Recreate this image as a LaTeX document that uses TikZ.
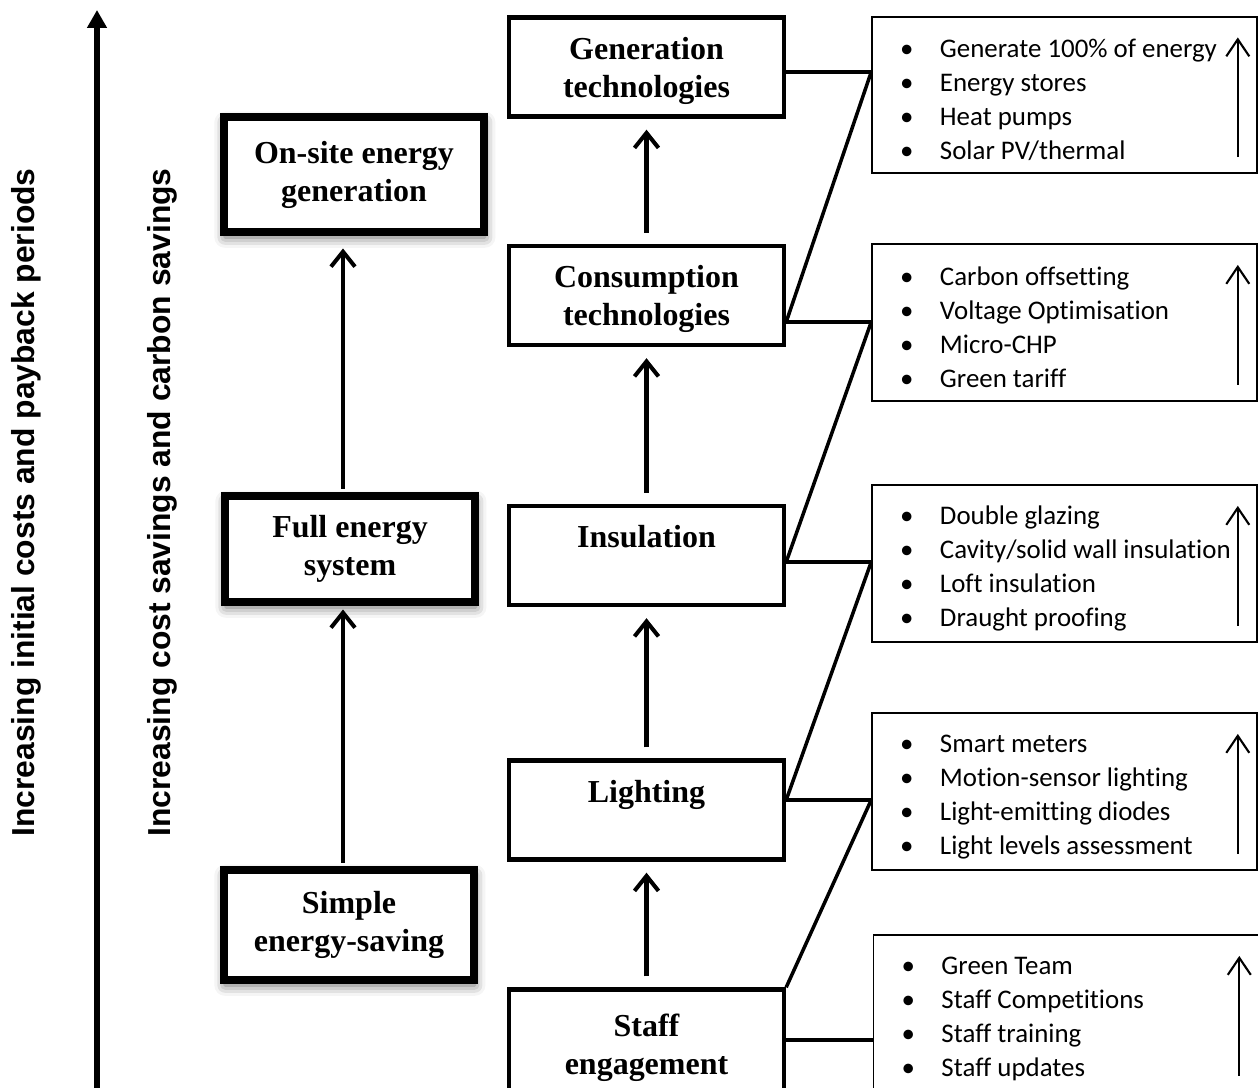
\documentclass[tikz,border=0pt]{standalone}
\usepackage{fontspec}
\setmainfont{Liberation Serif}
\newfontfamily\calibri[Ligatures=NoCommon]{Carlito}
\newfontfamily\eixofont{Liberation Sans}
\usetikzlibrary{arrows.meta,shadows.blur}
\newcommand{\itm}[1]{\mbox{\makebox[0.8cm][l]{\textbullet}#1}}
\begin{document}
\begin{tikzpicture}[
nivel/.style={draw,line width=4.5pt,fill=white,
minimum width=5cm,
minimum height=2.2cm,align=center,
font=\fontsize{18.2}{21.6}\selectfont\bfseries,
blur shadow={shadow xshift=0.5pt,shadow yshift=-3pt,shadow blur radius=6pt,shadow opacity=60}},
medida/.style={draw,line width=2.5pt,
minimum width=5.5cm,
minimum height=1.98cm,align=center,text depth=0pt,
font=\fontsize{18.2}{21.6}\selectfont\bfseries},
lista/.style={draw,line width=0.9pt,
minimum width=7.7cm,
minimum height=3.13cm,
text width=6.58cm,inner xsep=0.56cm,align=flush left,
execute at begin node={\rule{0pt}{0.56cm}},
font=\calibri\fontsize{15.3}{19.35}\selectfont},
rotulo/.style={rotate=90,anchor=base,font=\eixofont\bfseries\fontsize{18.1}{20}\selectfont},
subida/.style={line width=2.3pt,-{Straight Barb[length=0.3cm,width=0.48cm]}},
subidafina/.style={line width=1.2pt,-{Straight Barb[length=0.34cm,width=0.46cm]}},
liga/.style={line width=2pt}
]
\useasboundingbox (0,0) rectangle (25.16,21.76);

% eixos
\coordinate (base) at (1.94,-0.2);
\coordinate (topo) at (1.94,21.56);
\draw[line width=2.9pt,-{Triangle[length=0.36cm,width=0.38cm]}] (base) -- (topo);
\node[rotulo] (custo) at (0.70,11.71) {Increasing initial costs and payback periods};
\node[rotulo] (poupanca) at (3.40,11.71) {Increasing cost savings and carbon savings};

% niveis
\node[nivel,minimum width=5.2cm,minimum height=2.3cm] (onsite) at (7.08,18.27) {On-site energy\\generation};
\node[nivel,minimum height=2.12cm] (full) at (7.0,10.78) {Full energy\\system};
\node[nivel] (simple) at (6.98,3.26) {Simple\\energy-saving};
\coordinate (seta) at (6.86,0);
\draw[subida,shorten <=2pt,shorten >=2pt] (simple.north -| seta) -- (full.south -| seta);
\draw[subida,shorten <=2pt,shorten >=0.25cm] (full.north -| seta) -- (onsite.south -| seta);

% medidas
\node[medida] (gen) at (12.93,20.42) {Generation\\technologies};
\node[medida] (cons) at (12.93,15.85) {Consumption\\technologies};
\node[medida] (ins) at (12.93,10.65) {Insulation\\\strut};
\node[medida] (luz) at (12.93,5.56) {Lighting\\\strut};
\node[medida,minimum height=2.2cm] (staff) at (12.93,0.87) {Staff\\engagement};
\foreach \a/\b in {staff/luz,luz/ins,ins/cons,cons/gen}
\draw[subida,shorten <=0.22cm,shorten >=0.22cm] (\a.north) -- (\b.south);

% listas
\node[lista] (r1) at (21.29,19.86) {\itm{Generate 100\% of energy}\\\itm{Energy stores}\\\itm{Heat pumps}\\\itm{Solar PV/thermal}};
\node[lista] (r2) at (21.29,15.31) {\itm{Carbon offsetting}\\\itm{Voltage Optimisation}\\\itm{Micro-CHP}\\\itm{Green tariff}};
\node[lista] (r3) at (21.29,10.49) {\itm{Double glazing}\\\itm{Cavity/solid wall insulation}\\\itm{Loft insulation}\\\itm{Draught proofing}};
\node[lista] (r4) at (21.29,5.93) {\itm{Smart meters}\\\itm{Motion-sensor lighting}\\\itm{Light-emitting diodes}\\\itm{Light levels assessment}};
\node[lista] (r5) at (21.32,1.49) {\itm{Green Team}\\\itm{Staff Competitions}\\\itm{Staff training}\\\itm{Staff updates}};
\foreach \r in {r1,r2,r3,r4,r5}
\draw[subidafina] ([xshift=-0.4cm,yshift=0.34cm]\r.south east) -- ([xshift=-0.4cm,yshift=-0.43cm]\r.north east);

% ligacoes
\coordinate (j1) at (r1.west |- 0,20.32);
\coordinate (j2) at (r2.west |- 0,15.32);
\coordinate (j3) at (r3.west |- 0,10.52);
\coordinate (j4) at (r4.west |- 0,5.76);
\coordinate (j5) at (r5.west |- 0,0.96);
\foreach \m/\j in {gen/j1,cons/j2,ins/j3,luz/j4,staff/j5}
\draw[liga] (\m.east |- \j) -- (\j);
\draw[liga] (cons.east |- j2) -- (j1);
\draw[liga] (ins.east |- j3) -- (j2);
\draw[liga] (luz.east |- j4) -- (j3);
\draw[liga] (staff.north east) -- (j4);

\end{tikzpicture}
\end{document}
